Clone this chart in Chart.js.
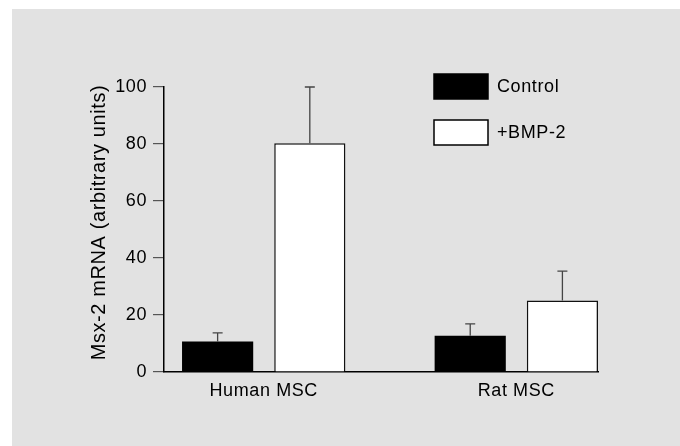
<!DOCTYPE html>
<html>
<head>
<meta charset="utf-8">
<script src="https://cdn.jsdelivr.net/npm/chart.js@4.4.0/dist/chart.umd.min.js"></script>
<style>
  html, body { margin: 0; padding: 0; background: #fff; overflow: hidden; }
  canvas { display: block; }
</style>
</head>
<body>
<canvas id="msxChart" width="680" height="446"></canvas>
<script>
// data
const categories = ['Human MSC', 'Rat MSC'];
const catPos = [1, 2];
const controlVals = [10.7, 12.7];
const controlErr = [3.0, 4.2];
const bmpVals = [80.3, 25.1];
const bmpErr = [19.7, 10.3];
const yTicks = [0, 20, 40, 60, 80, 100];

const seriesLabels = ['Control', '+BMP-2'];
const yTitle = 'Msx-2 mRNA (arbitrary units)';

const fontFamily = '"Liberation Sans", Arial, sans-serif';
const spacing = '0.6px';

// gray panel behind everything
const panelBg = {
    id: 'panelBg',
    afterInit(chart) { chart.ctx.letterSpacing = spacing; },
    beforeUpdate(chart) { chart.ctx.letterSpacing = spacing; },
    beforeDraw(chart) {
        const c = chart.ctx;
        c.save();
        c.fillStyle = '#e2e2e2';
        c.fillRect(12, 9, chart.width - 12, chart.height - 9);
        c.restore();
        c.letterSpacing = spacing;
    }
};

// error bars (upper only)
const errorBars = {
    id: 'errorBars',
    afterDatasetsDraw(chart) {
        const c = chart.ctx;
        const yScale = chart.scales.y;
        c.save();
        c.strokeStyle = '#444';
        c.lineWidth = 1.3;
        chart.data.datasets.forEach((ds, di) => {
            const meta = chart.getDatasetMeta(di);
            meta.data.forEach((bar, i) => {
                const top = yScale.getPixelForValue(ds.data[i].y + ds.errors[i]);
                c.beginPath();
                c.moveTo(bar.x, bar.y);
                c.lineTo(bar.x, top);
                c.moveTo(bar.x - 5, top);
                c.lineTo(bar.x + 5, top);
                c.stroke();
            });
        });
        c.restore();
    }
};

// legend boxes top right + y title (sits a little above axis centre)
const boxLegend = {
    id: 'boxLegend',
    afterDraw(chart) {
        const c = chart.ctx;
        c.save();
        c.font = '18px ' + fontFamily;
        c.textBaseline = 'middle';
        c.textAlign = 'left';
        chart.data.datasets.forEach((ds, i) => {
            const y = 74 + i * 46;
            c.fillStyle = ds.backgroundColor;
            c.fillRect(434, y, 54, 25);
            c.lineWidth = 1.5;
            c.strokeStyle = '#000';
            c.strokeRect(434, y, 54, 25);
            c.fillStyle = '#000';
            c.fillText(ds.label, 497, y + 13);
        });

        const area = chart.chartArea;
        c.translate(99, (area.top + area.bottom) / 2 - 7);
        c.rotate(-Math.PI / 2);
        c.font = '20px ' + fontFamily;
        c.textAlign = 'center';
        c.fillText(yTitle, 0, 0);
        c.restore();
    }
};

const toPoints = (vals) => vals.map((v, i) => ({ x: catPos[i], y: v }));

Chart.defaults.font.family = fontFamily;
Chart.defaults.font.size = 18;
Chart.defaults.color = '#000';

new Chart(document.getElementById('msxChart'), {
    type: 'bar',
    data: {
        datasets: [
            {
                label: seriesLabels[0],
                data: toPoints(controlVals),
                errors: controlErr,
                backgroundColor: '#000',
                borderColor: '#000',
                borderWidth: 0,
                clip: false
            },
            {
                label: seriesLabels[1],
                data: toPoints(bmpVals),
                errors: bmpErr,
                backgroundColor: '#fff',
                borderColor: '#111',
                borderWidth: 1.5,
                clip: false
            }
        ]
    },
    options: {
        responsive: false,
        animation: false,
        categoryPercentage: 0.730,
        barPercentage: 0.772,
        layout: { padding: { left: 80, top: 87, right: 82, bottom: 0 } },
        plugins: {
            legend: { display: false },
            tooltip: { enabled: false }
        },
        scales: {
            x: {
                type: 'linear',
                min: 0.6052,
                max: 2.3234,
                offset: false,
                grid: { display: true, offset: false, drawOnChartArea: false, drawTicks: false },
                border: { display: true, color: '#000', width: 1.5 },
                afterBuildTicks(axis) { axis.ticks = catPos.map(v => ({ value: v })); },
                afterFit(axis) { axis.height = 74; },
                ticks: {
                    maxRotation: 0,
                    autoSkip: false,
                    padding: 8,
                    callback: (v, i) => categories[i]
                }
            },
            y: {
                min: 0,
                max: 100,
                grid: { drawOnChartArea: false, drawTicks: true, tickLength: 11, color: '#555', lineWidth: 1.2 },
                border: { display: true, color: '#000', width: 1.5 },
                afterBuildTicks(axis) { axis.ticks = yTicks.map(v => ({ value: v })); },
                afterFit(axis) { axis.width = 84; },
                ticks: { padding: 6 },
                title: { display: false }
            }
        }
    },
    plugins: [panelBg, errorBars, boxLegend]
});
</script>
</body>
</html>
